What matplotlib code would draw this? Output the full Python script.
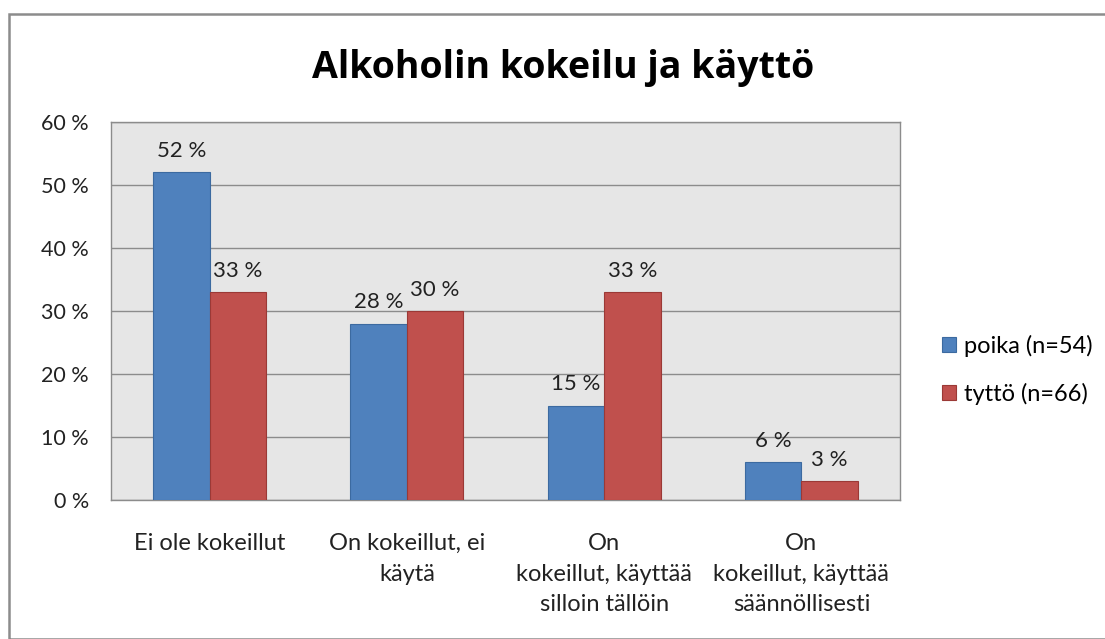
import matplotlib
matplotlib.use("Agg")
import matplotlib.pyplot as plt
import numpy as np
from matplotlib.patches import Rectangle

categories = ["Ei ole kokeillut", "On kokeillut, ei\nkäytä",
              "On\nkokeillut, käyttää\nsilloin tällöin",
              "On\nkokeillut, käyttää\nsäännöllisesti"]
poika = [52, 28, 15, 6]
tytto = [33, 30, 33, 3]
series_names = ["poika (n=54)", "tyttö (n=66)"]
yticks = [0, 10, 20, 30, 40, 50, 60]

plt.rcParams['font.family'] = ['Lato', 'DejaVu Sans']

W, H = 1105, 639
fig = plt.figure(figsize=(W/100, H/100), dpi=100)
fig.patch.set_facecolor('white')

# outer border
fig.add_artist(Rectangle((9/W, 0), 1.2, 1 - 14/H, transform=fig.transFigure,
                         fill=False, edgecolor='#8c8c8c', linewidth=1.8))

left, right, top, bottom = 111, 900, 122, 500
ax = fig.add_axes([left/W, 1 - bottom/H, (right-left)/W, (bottom-top)/H])
ax.set_facecolor('#e6e6e6')

x = np.arange(len(categories))
bw = 0.286
b1 = ax.bar(x - bw/2, poika, bw, color='#4f81bd', edgecolor='#3c6aa0', linewidth=0.8, zorder=3)
b2 = ax.bar(x + bw/2, tytto, bw, color='#c0504d', edgecolor='#9b3936', linewidth=0.8, zorder=3)

for bars, vals in ((b1, poika), (b2, tytto)):
    for r, v in zip(bars, vals):
        ax.text(r.get_x() + r.get_width()/2, v + 1.8, f"{v} %", ha='center', va='bottom',
                fontsize=16, color='#222222')

ax.set_xlim(-0.5, len(categories) - 0.5)
ax.set_ylim(0, 60)
ax.set_yticks(yticks)
ax.set_yticklabels([f"{t} %" for t in yticks], fontsize=15.5, color='#222222')
ax.yaxis.grid(True, color='#8c8c8c', linewidth=1.0, zorder=0)
ax.set_axisbelow(True)
ax.set_xticks(x)
ax.set_xticklabels(categories, fontsize=17, color='#222222', linespacing=1.55)
ax.tick_params(axis='x', length=0, pad=24)
ax.tick_params(axis='y', length=0, pad=16)
for s in ax.spines.values():
    s.set_color('#8c8c8c')
    s.set_linewidth(1.0)

fig.text(563/W, 1 - 68/H, "Alkoholin kokeilu ja käyttö", ha='center', va='center',
         fontsize=27, fontweight='bold', color='black',
         family=['Open Sans', 'DejaVu Sans'])

leg = fig.legend([b1, b2], series_names, loc='center left',
                 bbox_to_anchor=(921/W, 1 - 370/H), frameon=False, fontsize=17,
                 handlelength=0.6, handleheight=0.6, handletextpad=0.3,
                 labelspacing=1.1)

fig.savefig("out.png", dpi=100)
